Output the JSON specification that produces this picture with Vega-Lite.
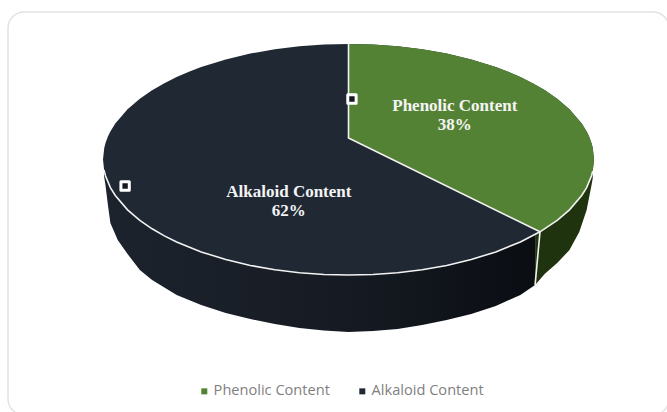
{
  "$schema": "https://vega.github.io/schema/vega-lite/v6.json",
  "width": 661,
  "height": 403,
  "padding": {"left": 8, "top": 12, "right": 0, "bottom": 0},
  "autosize": "none",
  "background": "white",
  "view": {"stroke": "#e2e2e2", "strokeWidth": 1.5, "cornerRadius": 16, "fill": "white"},
  "datasets": {
    "top": [
      {"u": -1, "vTop": 0, "vBot": 0}, {"u": -0.995, "vTop": 0.1, "vBot": -0.1}, {"u": -0.99, "vTop": 0.141, "vBot": -0.141},
      {"u": -0.98, "vTop": 0.199, "vBot": -0.199}, {"u": -0.97, "vTop": 0.243, "vBot": -0.243}, {"u": -0.95, "vTop": 0.312, "vBot": -0.312},
      {"u": -0.9, "vTop": 0.436, "vBot": -0.436}, {"u": -0.85, "vTop": 0.527, "vBot": -0.527}, {"u": -0.8, "vTop": 0.6, "vBot": -0.6},
      {"u": -0.75, "vTop": 0.661, "vBot": -0.661}, {"u": -0.7, "vTop": 0.714, "vBot": -0.714}, {"u": -0.65, "vTop": 0.76, "vBot": -0.76},
      {"u": -0.6, "vTop": 0.8, "vBot": -0.8}, {"u": -0.5, "vTop": 0.866, "vBot": -0.866}, {"u": -0.4, "vTop": 0.917, "vBot": -0.917},
      {"u": -0.3, "vTop": 0.954, "vBot": -0.954}, {"u": -0.2, "vTop": 0.98, "vBot": -0.98}, {"u": -0.1, "vTop": 0.995, "vBot": -0.995},
      {"u": 0, "vTop": 1, "vBot": -1}, {"u": 0.1, "vTop": 0.995, "vBot": -0.995}, {"u": 0.2, "vTop": 0.98, "vBot": -0.98},
      {"u": 0.3, "vTop": 0.954, "vBot": -0.954}, {"u": 0.4, "vTop": 0.917, "vBot": -0.917}, {"u": 0.5, "vTop": 0.866, "vBot": -0.866},
      {"u": 0.6, "vTop": 0.8, "vBot": -0.8}, {"u": 0.65, "vTop": 0.76, "vBot": -0.76}, {"u": 0.7, "vTop": 0.714, "vBot": -0.714},
      {"u": 0.75, "vTop": 0.661, "vBot": -0.661}, {"u": 0.8, "vTop": 0.6, "vBot": -0.6}, {"u": 0.85, "vTop": 0.527, "vBot": -0.527},
      {"u": 0.9, "vTop": 0.436, "vBot": -0.436}, {"u": 0.95, "vTop": 0.312, "vBot": -0.312}, {"u": 0.97, "vTop": 0.243, "vBot": -0.243},
      {"u": 0.98, "vTop": 0.199, "vBot": -0.199}, {"u": 0.99, "vTop": 0.141, "vBot": -0.141}, {"u": 0.995, "vTop": 0.1, "vBot": -0.1},
      {"u": 1, "vTop": 0, "vBot": 0}
    ],
    "phenolic": [
      {"u": 0, "vTop": 1, "vBot": 0.186}, {"u": 0.1, "vTop": 0.995, "vBot": 0.082}, {"u": 0.2, "vTop": 0.98, "vBot": -0.022},
      {"u": 0.3, "vTop": 0.954, "vBot": -0.126}, {"u": 0.4, "vTop": 0.917, "vBot": -0.23}, {"u": 0.5, "vTop": 0.866, "vBot": -0.335},
      {"u": 0.6, "vTop": 0.8, "vBot": -0.439}, {"u": 0.65, "vTop": 0.76, "vBot": -0.491}, {"u": 0.7, "vTop": 0.714, "vBot": -0.543},
      {"u": 0.75, "vTop": 0.661, "vBot": -0.595}, {"u": 0.78, "vTop": 0.626, "vBot": -0.626}, {"u": 0.8, "vTop": 0.6, "vBot": -0.6},
      {"u": 0.85, "vTop": 0.527, "vBot": -0.527}, {"u": 0.9, "vTop": 0.436, "vBot": -0.436}, {"u": 0.95, "vTop": 0.312, "vBot": -0.312},
      {"u": 0.97, "vTop": 0.243, "vBot": -0.243}, {"u": 0.98, "vTop": 0.199, "vBot": -0.199}, {"u": 0.99, "vTop": 0.141, "vBot": -0.141},
      {"u": 0.995, "vTop": 0.1, "vBot": -0.1}, {"u": 1, "vTop": 0, "vBot": 0}
    ],
    "wallDark": [
      {"u": -0.996, "vTop": -0.09, "vBot": -0.14}, {"u": -0.99, "vTop": -0.141, "vBot": -0.221}, {"u": -0.98, "vTop": -0.199, "vBot": -0.394},
      {"u": -0.97, "vTop": -0.243, "vBot": -0.55}, {"u": -0.94, "vTop": -0.341, "vBot": -0.697}, {"u": -0.9, "vTop": -0.436, "vBot": -0.818},
      {"u": -0.85, "vTop": -0.527, "vBot": -0.957}, {"u": -0.8, "vTop": -0.6, "vBot": -1.043}, {"u": -0.7, "vTop": -0.714, "vBot": -1.173},
      {"u": -0.6, "vTop": -0.8, "vBot": -1.26}, {"u": -0.5, "vTop": -0.866, "vBot": -1.329}, {"u": -0.4, "vTop": -0.917, "vBot": -1.381},
      {"u": -0.3, "vTop": -0.954, "vBot": -1.424}, {"u": -0.2, "vTop": -0.98, "vBot": -1.459}, {"u": -0.1, "vTop": -0.995, "vBot": -1.48},
      {"u": 0, "vTop": -1, "vBot": -1.494}, {"u": 0.1, "vTop": -0.995, "vBot": -1.485}, {"u": 0.2, "vTop": -0.98, "vBot": -1.468},
      {"u": 0.3, "vTop": -0.954, "vBot": -1.433}, {"u": 0.4, "vTop": -0.917, "vBot": -1.39}, {"u": 0.5, "vTop": -0.866, "vBot": -1.338},
      {"u": 0.6, "vTop": -0.8, "vBot": -1.268}, {"u": 0.7, "vTop": -0.714, "vBot": -1.173}, {"u": 0.76, "vTop": -0.65, "vBot": -1.087}
    ],
    "wallGreen": [
      {"u": 0.76, "vTop": -0.65, "vBot": -1.087}, {"u": 0.8, "vTop": -0.6, "vBot": -0.99}, {"u": 0.85, "vTop": -0.527, "vBot": -0.896},
      {"u": 0.9, "vTop": -0.436, "vBot": -0.784}, {"u": 0.94, "vTop": -0.341, "vBot": -0.628}, {"u": 0.97, "vTop": -0.243, "vBot": -0.437},
      {"u": 0.99, "vTop": -0.141, "vBot": -0.22}, {"u": 0.995, "vTop": -0.1, "vBot": -0.16}
    ],
    "edges": [
      {"edge": "spoke", "i": 0, "u": 0, "v": 1}, {"edge": "spoke", "i": 1, "u": 0, "v": 0.186}, {"edge": "spoke", "i": 2, "u": 0.78, "v": -0.626},
      {"edge": "seam", "i": 0, "u": 0.78, "v": -0.626}, {"edge": "seam", "i": 1, "u": 0.76, "v": -1.087},
      {"edge": "rim", "i": 0, "u": -0.996, "v": -0.09}, {"edge": "rim", "i": 1, "u": -0.99, "v": -0.141}, {"edge": "rim", "i": 2, "u": -0.97, "v": -0.243},
      {"edge": "rim", "i": 3, "u": -0.95, "v": -0.312}, {"edge": "rim", "i": 4, "u": -0.9, "v": -0.436}, {"edge": "rim", "i": 5, "u": -0.85, "v": -0.527},
      {"edge": "rim", "i": 6, "u": -0.8, "v": -0.6}, {"edge": "rim", "i": 7, "u": -0.75, "v": -0.661}, {"edge": "rim", "i": 8, "u": -0.7, "v": -0.714},
      {"edge": "rim", "i": 9, "u": -0.6, "v": -0.8}, {"edge": "rim", "i": 10, "u": -0.5, "v": -0.866}, {"edge": "rim", "i": 11, "u": -0.4, "v": -0.917},
      {"edge": "rim", "i": 12, "u": -0.3, "v": -0.954}, {"edge": "rim", "i": 13, "u": -0.2, "v": -0.98}, {"edge": "rim", "i": 14, "u": -0.1, "v": -0.995},
      {"edge": "rim", "i": 15, "u": 0, "v": -1}, {"edge": "rim", "i": 16, "u": 0.1, "v": -0.995}, {"edge": "rim", "i": 17, "u": 0.2, "v": -0.98},
      {"edge": "rim", "i": 18, "u": 0.3, "v": -0.954}, {"edge": "rim", "i": 19, "u": 0.4, "v": -0.917}, {"edge": "rim", "i": 20, "u": 0.5, "v": -0.866},
      {"edge": "rim", "i": 21, "u": 0.6, "v": -0.8}, {"edge": "rim", "i": 22, "u": 0.7, "v": -0.714}, {"edge": "rim", "i": 23, "u": 0.78, "v": -0.626},
      {"edge": "rim", "i": 24, "u": 0.85, "v": -0.527}, {"edge": "rim", "i": 25, "u": 0.9, "v": -0.436}, {"edge": "rim", "i": 26, "u": 0.95, "v": -0.312},
      {"edge": "rim", "i": 27, "u": 0.97, "v": -0.243}, {"edge": "rim", "i": 28, "u": 0.99, "v": -0.141}, {"edge": "rim", "i": 29, "u": 0.995, "v": -0.1}
    ],
    "labels": [
      {"u": 0.433, "v": 0.462, "label": "Phenolic Content\n38%"},
      {"u": -0.243, "v": -0.285, "label": "Alkaloid Content\n62%"}
    ],
    "handles": [
      {"u": 0.014, "v": 0.524},
      {"u": -0.91, "v": -0.229}
    ]
  },
  "encoding": {
    "x": {"type": "quantitative", "scale": {"domain": [-1.387, 1.3055], "nice": false, "zero": false}, "axis": null},
    "y": {"type": "quantitative", "scale": {"domain": [-2.212, 1.277], "nice": false, "zero": false}, "axis": null}
  },
  "layer": [
    {
      "data": {"name": "wallDark"},
      "mark": {"type": "area", "color": {"gradient": "linear", "x1": 0, "x2": 1, "y1": 0, "y2": 0, "stops": [{"offset": 0, "color": "#1d232d"}, {"offset": 0.6, "color": "#151a22"}, {"offset": 1, "color": "#0a0d12"}]}},
      "encoding": {"x": {"field": "u"}, "y": {"field": "vBot"}, "y2": {"field": "vTop"}}
    },
    {
      "data": {"name": "wallGreen"},
      "mark": {"type": "area", "color": "#20330f"},
      "encoding": {"x": {"field": "u"}, "y": {"field": "vBot"}, "y2": {"field": "vTop"}}
    },
    {
      "data": {"name": "top"},
      "transform": [{"calculate": "'Alkaloid Content'", "as": "series"}],
      "mark": {"type": "area"},
      "encoding": {
        "x": {"field": "u"}, "y": {"field": "vBot"}, "y2": {"field": "vTop"},
        "color": {
          "field": "series", "type": "nominal",
          "scale": {"domain": ["Phenolic Content", "Alkaloid Content"], "range": ["#548235", "#202834"]},
          "legend": {
            "title": null, "orient": "none", "legendX": 189, "legendY": 372, "direction": "horizontal", "columns": 2, "columnPadding": 25,
            "symbolType": "square", "symbolSize": 36, "symbolStrokeWidth": 0, "labelFont": "Open Sans", "labelFontSize": 14.6, "labelColor": "#7f7f7f", "labelOffset": 2
          }
        }
      }
    },
    {
      "data": {"name": "phenolic"},
      "mark": {"type": "area", "color": "#548235"},
      "encoding": {"x": {"field": "u"}, "y": {"field": "vBot"}, "y2": {"field": "vTop"}}
    },
    {
      "data": {"name": "edges"},
      "mark": {"type": "line", "color": "#f2f2f2", "strokeWidth": 1.6},
      "encoding": {"x": {"field": "u"}, "y": {"field": "v"}, "detail": {"field": "edge"}, "order": {"field": "i"}}
    },
    {
      "data": {"name": "handles"},
      "mark": {"type": "point", "shape": "square", "filled": true, "size": 70, "fill": "#14181f", "stroke": "white", "strokeWidth": 3, "strokeJoin": "round", "opacity": 1},
      "encoding": {"x": {"field": "u"}, "y": {"field": "v"}}
    },
    {
      "data": {"name": "labels"},
      "mark": {"type": "text", "font": "Liberation Serif", "fontWeight": "bold", "fontSize": 17, "color": "#f4f4f4", "lineBreak": "\n", "lineHeight": 19, "align": "center", "baseline": "middle"},
      "encoding": {"x": {"field": "u"}, "y": {"field": "v"}, "text": {"field": "label"}}
    }
  ]
}
